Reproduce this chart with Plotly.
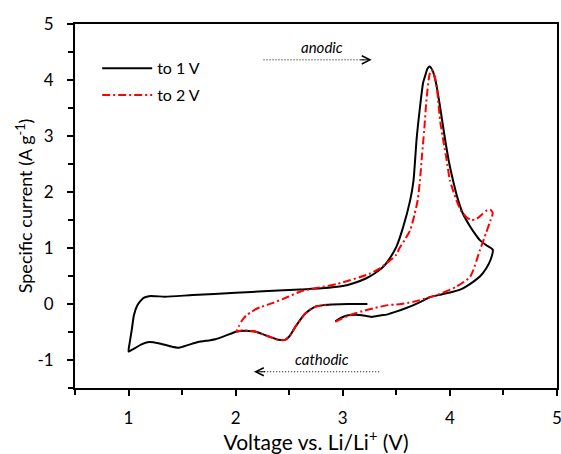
import plotly.graph_objects as go

# ---- data (voltage V, specific current A/g) ----
v_1V = [2.93, 2.98, 3.05, 3.12, 3.18, 3.27, 3.36, 3.41, 3.49, 3.58, 3.66, 3.75, 3.81, 3.92, 4.03, 4.10, 4.15, 4.22, 4.28, 4.34, 4.38, 4.40,
        4.34, 4.28, 4.24, 4.19, 4.12, 4.07, 4.03, 3.99, 3.95, 3.91, 3.87, 3.84, 3.81,
        3.79, 3.77, 3.75, 3.72, 3.69, 3.66, 3.63, 3.56, 3.50, 3.44, 3.38, 3.30, 3.22, 3.10, 3.00, 2.80, 2.60, 2.30, 2.00, 1.60, 1.34, 1.25, 1.19, 1.14, 1.11, 1.08, 1.05, 1.03, 1.01, 1.00,
        1.03, 1.06, 1.12, 1.19, 1.28, 1.38, 1.47, 1.56, 1.65, 1.75, 1.81, 1.90, 2.01, 2.12, 2.18, 2.24, 2.31, 2.40, 2.46, 2.50, 2.56, 2.65, 2.74, 2.82, 2.90, 3.05, 3.23]
i_1V = [-0.31, -0.25, -0.20, -0.19, -0.20, -0.23, -0.20, -0.19, -0.14, -0.08, -0.02, 0.06, 0.12, 0.17, 0.22, 0.26, 0.31, 0.40, 0.49, 0.64, 0.79, 0.97,
        1.05, 1.14, 1.24, 1.38, 1.62, 1.90, 2.20, 2.55, 3.00, 3.50, 3.95, 4.16, 4.24,
        4.20, 4.08, 3.95, 3.50, 2.96, 2.20, 1.86, 1.35, 1.02, 0.82, 0.67, 0.55, 0.46, 0.37, 0.32, 0.28, 0.26, 0.23, 0.20, 0.16, 0.13, 0.14, 0.14, 0.11, 0.05, -0.03, -0.20, -0.46, -0.70, -0.85,
        -0.82, -0.79, -0.72, -0.68, -0.70, -0.75, -0.78, -0.73, -0.68, -0.65, -0.63, -0.57, -0.49, -0.48, -0.49, -0.53, -0.58, -0.64, -0.64, -0.58, -0.40, -0.17, -0.05, -0.02, -0.01, 0.00, 0.00]

v_2V = [2.93, 2.98, 3.05, 3.11, 3.20, 3.30, 3.42, 3.50, 3.66, 3.88, 4.06, 4.19, 4.28, 4.34, 4.38, 4.40,
        4.38, 4.35, 4.30, 4.25, 4.20, 4.15, 4.10, 4.06, 4.00, 3.97, 3.94, 3.91, 3.89, 3.88, 3.86, 3.83,
        3.81, 3.78, 3.76, 3.74, 3.72, 3.70, 3.67, 3.63, 3.58, 3.53, 3.50, 3.41, 3.35, 3.25, 2.95, 2.74, 2.60, 2.49, 2.35, 2.24, 2.18, 2.15, 2.10, 2.06, 2.03, 2.01,
        2.06, 2.12, 2.18, 2.24, 2.31, 2.40, 2.46, 2.50, 2.56, 2.65, 2.74, 2.82, 2.88]
i_2V = [-0.32, -0.27, -0.21, -0.17, -0.12, -0.07, -0.02, -0.01, 0.04, 0.16, 0.31, 0.49, 0.96, 1.28, 1.50, 1.62,
        1.68, 1.68, 1.60, 1.52, 1.50, 1.56, 1.68, 1.86, 2.21, 2.57, 2.90, 3.26, 3.64, 3.85, 4.05, 4.18,
        4.10, 3.61, 3.10, 2.66, 2.20, 1.86, 1.60, 1.32, 1.15, 1.00, 0.88, 0.73, 0.64, 0.54, 0.36, 0.28, 0.22, 0.13, 0.02, -0.05, -0.10, -0.14, -0.20, -0.29, -0.40, -0.49,
        -0.47, -0.48, -0.49, -0.53, -0.58, -0.64, -0.64, -0.58, -0.40, -0.17, -0.05, -0.02, -0.01]

x_ticks = [1, 2, 3, 4, 5]
y_ticks = [-1, 0, 1, 2, 3, 4, 5]

FONT = "Lato"

fig = go.Figure()
fig.add_trace(go.Scatter(x=v_1V, y=i_1V, mode="lines", name="to 1 V", legendgroup="a",
                         line=dict(color="black", width=2, shape="spline", smoothing=0.6)))
fig.add_trace(go.Scatter(x=v_2V, y=i_2V, mode="lines", name="to 2 V", legendgroup="b",
                         line=dict(color="#ff0000", width=2, dash="8px,3px,2px,3px", shape="spline", smoothing=0.6)))

# direction arrows
fig.add_shape(type="line", x0=2.26, y0=4.36, x1=3.20, y1=4.36, xref="x", yref="y",
              line=dict(color="black", width=1, dash="1px,2px"))
fig.add_annotation(x=3.27, y=4.36, ax=3.15, ay=4.36, axref="x", ayref="y", xref="x", yref="y",
                   text="", showarrow=True, arrowhead=5, arrowsize=1.6, arrowwidth=1, arrowcolor="black")
fig.add_annotation(x=2.81, y=4.59, text="anodic", showarrow=False,
                   font=dict(family=FONT, size=15, color="black", style="italic"))

fig.add_shape(type="line", x0=3.34, y0=-1.21, x1=2.24, y1=-1.21, xref="x", yref="y",
              line=dict(color="black", width=1, dash="1px,2px"))
fig.add_annotation(x=2.17, y=-1.21, ax=2.29, ay=-1.21, axref="x", ayref="y", xref="x", yref="y",
                   text="", showarrow=True, arrowhead=5, arrowsize=1.6, arrowwidth=1, arrowcolor="black")
fig.add_annotation(x=2.81, y=-0.98, text="cathodic", showarrow=False,
                   font=dict(family=FONT, size=15, color="black", style="italic"))

axis_common = dict(showline=True, linecolor="black", linewidth=2, mirror=True,
                   ticks="outside", ticklen=6, tickwidth=2, tickcolor="black",
                   showgrid=False, zeroline=False, automargin=False,
                   ticklabeloverflow="allow",
                   tickfont=dict(family=FONT, size=17, color="black"))

fig.update_xaxes(range=[0.5, 5], tickvals=x_ticks, ticktext=[str(t) for t in x_ticks],
                 minor=dict(ticks="outside", dtick=0.5, tick0=0.5, ticklen=5, tickwidth=2, tickcolor="black"),
                 title=dict(text="Voltage vs. Li/Li<sup>+</sup> (V)", font=dict(family=FONT, size=21, color="black"), standoff=2),
                 ticklabelstandoff=8, **axis_common)
fig.update_yaxes(range=[-1.5, 5], tickvals=y_ticks, ticktext=[str(t) for t in y_ticks],
                 minor=dict(ticks="outside", dtick=0.5, tick0=0.5, ticklen=5, tickwidth=2, tickcolor="black"),
                 title=dict(text="Specific current (A g<sup>-1</sup>)", font=dict(family=FONT, size=18, color="black"), standoff=0),
                 ticklabelstandoff=10, **axis_common)

fig.update_layout(
    width=561, height=454,
    margin=dict(l=75, r=4, t=24, b=66),
    plot_bgcolor="white", paper_bgcolor="white",
    showlegend=True,
    legend=dict(x=0.046, y=0.925, xanchor="left", yanchor="top", bgcolor="rgba(0,0,0,0)",
                font=dict(family=FONT, size=16, color="black"), tracegroupgap=3, itemwidth=50),
)

fig.write_html("out.html", config={"displayModeBar": False},
               post_script="document.body.style.margin='0';document.body.style.overflow='hidden';")
